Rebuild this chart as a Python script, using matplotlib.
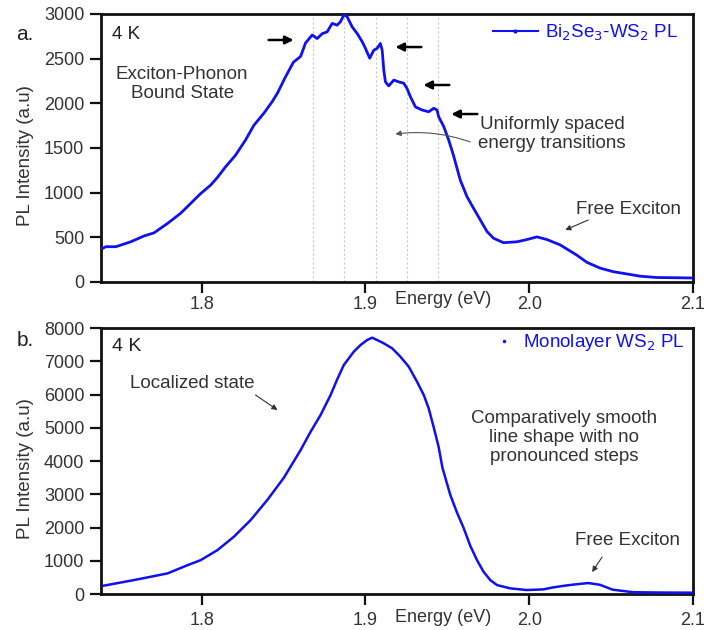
import matplotlib
matplotlib.use("Agg")
import matplotlib.pyplot as plt
from matplotlib.lines import Line2D

plt.rcParams['font.family'] = ['Liberation Sans', 'DejaVu Sans']

# ---------------- data ----------------
# (a) Bi2Se3-WS2 PL at 4 K
energy_a = [1.7396, 1.7415, 1.7476, 1.7567, 1.7648, 1.7709, 1.7791, 1.7872, 1.7933,
            1.7994, 1.8055, 1.8096, 1.8146, 1.8207, 1.8268, 1.8319, 1.8380, 1.8431,
            1.8463, 1.8510, 1.8560, 1.8604, 1.8634, 1.8675, 1.8705, 1.8736, 1.8766,
            1.8797, 1.8827, 1.8848, 1.8868, 1.8888, 1.8919, 1.8950, 1.8980, 1.9000,
            1.9026, 1.9051, 1.9071, 1.9091, 1.9102, 1.9112, 1.9122, 1.9142, 1.9173,
            1.9203, 1.9234, 1.9254, 1.9274, 1.9305, 1.9346, 1.9386, 1.9417, 1.9437,
            1.9447, 1.9478, 1.9508, 1.9537, 1.9579, 1.9620, 1.9660, 1.9701, 1.9742,
            1.9782, 1.9843, 1.9925, 1.9986, 2.0047, 2.0108, 2.0189, 2.0291,
            2.0352, 2.0433, 2.0514, 2.0596, 2.0677, 2.0779, 2.0880, 2.0992]
intensity_a = [377, 395, 395, 450, 515, 550, 655, 770, 880,
               990, 1085, 1170, 1290, 1420, 1590, 1755, 1890, 2020,
               2115, 2290, 2460, 2525, 2675, 2765, 2725, 2780, 2800,
               2895, 2875, 2915, 2990, 2970, 2855, 2780, 2690, 2615,
               2505, 2595, 2615, 2670, 2595, 2370, 2240, 2195, 2260,
               2240, 2225, 2165, 2075, 1960, 1925, 1905, 1945, 1925,
               1850, 1740, 1590, 1420, 1140, 955, 825, 695, 565,
               490, 440, 450, 475, 505, 475, 415, 300,
               220, 155, 115, 90, 65, 50, 48, 45]

# (b) Monolayer WS2 PL at 4 K
energy_b = [1.7400, 1.7587, 1.7791, 1.7915, 1.7994, 1.8096, 1.8197, 1.8299, 1.8401,
            1.8502, 1.8604, 1.8665, 1.8726, 1.8787, 1.8827, 1.8868, 1.8929,
            1.8970, 1.9010, 1.9041, 1.9071, 1.9112, 1.9163, 1.9213, 1.9264, 1.9315,
            1.9356, 1.9386, 1.9417, 1.9447, 1.9470, 1.9518, 1.9559, 1.9600, 1.9640,
            1.9681, 1.9721, 1.9762, 1.9803, 1.9884, 1.9986, 2.0087, 2.0146, 2.0230,
            2.0300, 2.0360, 2.0430, 2.0510, 2.0634, 2.0800, 2.1000]
intensity_b = [250, 420, 620, 870, 1020, 1320, 1725, 2225, 2830,
               3500, 4330, 4880, 5385, 5985, 6450, 6890, 7290,
               7490, 7640, 7710, 7640, 7540, 7390, 7140, 6840, 6385,
               5985, 5585, 5010, 4420, 3800, 2980, 2450, 1980, 1450,
               1020, 670, 420, 270, 170, 120, 140, 200, 260,
               300, 330, 280, 130, 55, 45, 40]

step_energies = [1.8677, 1.8870, 1.9067, 1.9256, 1.9440]
xticks = [1.8, 1.9, 2.0, 2.1]
yticks_a = [0, 500, 1000, 1500, 2000, 2500, 3000]
yticks_b = [0, 1000, 2000, 3000, 4000, 5000, 6000, 7000, 8000]

BLUE = '#1010f0'
TXT = '#333333'

fig = plt.figure(figsize=(7.06, 6.30), dpi=100)
ax1 = fig.add_axes([0.143, 0.5524, 0.8386, 0.4254])
ax2 = fig.add_axes([0.143, 0.0571, 0.8386, 0.4222])

for ax in (ax1, ax2):
    ax.set_xlim(1.7385, 2.1)
    ax.set_xticks(xticks)
    ax.set_xticklabels(['%.1f' % t for t in xticks])
    for s in ax.spines.values():
        s.set_linewidth(2.0)
        s.set_color('#111111')
    ax.tick_params(direction='out', length=8, width=1.6, labelsize=13,
                   labelcolor=TXT, color='#111111')
    ax.set_ylabel('PL Intensity (a.u)', fontsize=13.5, color=TXT)
    ax.yaxis.set_label_coords(-0.113, 0.47)

ax1.tick_params(axis='x', pad=2)
ax2.tick_params(axis='x', pad=5)
ax1.tick_params(axis='y', pad=4)
ax2.tick_params(axis='y', pad=4)

# ---------------- panel a ----------------
ax1.set_ylim(0, 3000)
ax1.set_yticks(yticks_a)
for e in step_energies:
    ax1.axvline(e, color='#c8c8c8', lw=0.8, ls=(0, (2, 2)), zorder=0)
ax1.plot(energy_a, intensity_a, color=BLUE, lw=2.0, zorder=3)

leg_a = ax1.legend([Line2D([], [], color=BLUE, lw=1.5, marker='.', markersize=4)],
                   ['Bi$_2$Se$_3$-WS$_2$ PL'], loc='center right',
                   bbox_to_anchor=(0.975, 0.929), frameon=False, fontsize=13.5,
                   handlelength=2.4, handletextpad=0.4, borderpad=0, borderaxespad=0,
                   numpoints=1)
for t in leg_a.get_texts():
    t.set_color(BLUE)

ax1.text(-0.128, 0.925, 'a.', transform=ax1.transAxes, fontsize=15, color='#222222',
         ha='center', va='center')
ax1.text(0.018, 0.925, '4 K', transform=ax1.transAxes, fontsize=13.5, color='#222222',
         ha='left', va='center')
ax1.text(0.137, 0.74, 'Exciton-Phonon\nBound State', transform=ax1.transAxes,
         fontsize=13.5, color=TXT, ha='center', va='center', linespacing=1.15)
ax1.text(0.762, 0.553, 'Uniformly spaced\nenergy transitions', transform=ax1.transAxes,
         fontsize=13.5, color=TXT, ha='center', va='center', linespacing=1.15)
ax1.text(0.891, 0.27, 'Free Exciton', transform=ax1.transAxes,
         fontsize=13.5, color=TXT, ha='center', va='center')
ax1.text(0.578, -0.067, 'Energy (eV)', transform=ax1.transAxes,
         fontsize=13, color=TXT, ha='center', va='center')

bold_arrow = dict(arrowstyle='-|>', lw=1.8, color='black', mutation_scale=12,
                  shrinkA=0, shrinkB=0)
ax1.annotate('', xy=(1.8561, 2709), xytext=(1.8409, 2709), arrowprops=bold_arrow)
ax1.annotate('', xy=(1.9183, 2630), xytext=(1.9341, 2630), arrowprops=bold_arrow)
ax1.annotate('', xy=(1.9354, 2205), xytext=(1.9512, 2205), arrowprops=bold_arrow)
ax1.annotate('', xy=(1.9524, 1880), xytext=(1.9683, 1880), arrowprops=bold_arrow)
thin_arrow = dict(arrowstyle='-|>', lw=0.8, color='#555555', mutation_scale=8,
                  shrinkA=0, shrinkB=0)
ax1.annotate('', xy=(1.9183, 1656), xytext=(1.9640, 1567),
             arrowprops=dict(thin_arrow, connectionstyle='arc3,rad=0.12'))
ax1.annotate('', xy=(2.0220, 582), xytext=(2.0360, 694),
             arrowprops=dict(thin_arrow, color='#333333'))

# ---------------- panel b ----------------
ax2.set_ylim(0, 8000)
ax2.set_yticks(yticks_b)
ax2.plot(energy_b, intensity_b, color=BLUE, lw=1.8, zorder=3)

leg_b = ax2.legend([Line2D([], [], color=BLUE, lw=0, marker='.', markersize=3)],
                   ['Monolayer WS$_2$ PL'], loc='center right',
                   bbox_to_anchor=(0.985, 0.944), frameon=False, fontsize=13.5,
                   handlelength=1.2, handletextpad=0.4, borderpad=0, borderaxespad=0,
                   numpoints=1)
for t in leg_b.get_texts():
    t.set_color(BLUE)

ax2.text(-0.128, 0.955, 'b.', transform=ax2.transAxes, fontsize=15, color='#222222',
         ha='center', va='center')
ax2.text(0.018, 0.93, '4 K', transform=ax2.transAxes, fontsize=14, color='#222222',
         ha='left', va='center')
ax2.text(0.155, 0.793, 'Localized state', transform=ax2.transAxes,
         fontsize=13.5, color=TXT, ha='center', va='center')
ax2.text(0.782, 0.588, 'Comparatively smooth\nline shape with no\npronounced steps',
         transform=ax2.transAxes, fontsize=13.5, color=TXT, ha='center', va='center',
         linespacing=1.15)
ax2.text(0.890, 0.203, 'Free Exciton', transform=ax2.transAxes,
         fontsize=13.5, color=TXT, ha='center', va='center')
ax2.text(0.578, -0.09, 'Energy (eV)', transform=ax2.transAxes,
         fontsize=13, color=TXT, ha='center', va='center')

ax2.annotate('', xy=(1.8463, 5535), xytext=(1.8329, 5986),
             arrowprops=dict(thin_arrow, color='#333333'))
ax2.annotate('', xy=(2.0384, 662), xytext=(2.0445, 1113),
             arrowprops=dict(thin_arrow, color='#333333'))

fig.savefig('out.png', dpi=100)
